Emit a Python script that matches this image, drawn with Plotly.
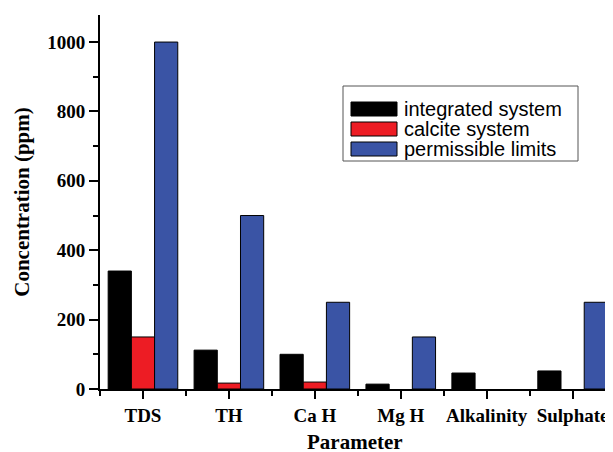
import plotly.graph_objects as go

categories = ["TDS", "TH", "Ca H", "Mg H", "Alkalinity", "Sulphate"]
integrated_system = [340, 112, 100, 14, 46, 52]
calcite_system = [150, 17, 20, None, None, None]
permissible_limits = [1000, 500, 250, 150, None, 250]
series_names = ["integrated system", "calcite system", "permissible limits"]
y_ticks = [0, 200, 400, 600, 800, 1000]
x_title = "Parameter"
y_title = "Concentration (ppm)"

colors = ["#000000", "#ed1c24", "#3a54a5"]
OFF = 8  # page body margin
W, H = 613 - OFF, 452 - OFF
L, R, T, B = 100 - OFF, 613 - OFF, 15 - OFF, 389 - OFF

x_idx = list(range(len(categories)))
fig = go.Figure()
for name, vals, c in zip(series_names, [integrated_system, calcite_system, permissible_limits], colors):
    fig.add_trace(go.Bar(x=x_idx, y=vals, name=name, marker=dict(color=c, line=dict(color="#000000", width=1)),
                         showlegend=False))

def px_x(p):
    return (p - OFF - L) / (R - L)

def px_y(p):
    return (B - (p - OFF)) / (B - T)

shapes = []
annotations = []
# legend box
shapes.append(dict(type="rect", xref="paper", yref="paper", x0=px_x(343), x1=px_x(578), y0=px_y(161), y1=px_y(86),
                   line=dict(color="#555555", width=1), fillcolor="white"))
row_centers = [109, 129, 149]
for name, c, yc in zip(series_names, colors, row_centers):
    shapes.append(dict(type="rect", xref="paper", yref="paper", x0=px_x(351), x1=px_x(397), y0=px_y(yc + 7), y1=px_y(yc - 7),
                       line=dict(color="#000000", width=1), fillcolor=c))
    annotations.append(dict(xref="paper", yref="paper", x=px_x(402), y=px_y(yc), text=name, showarrow=False,
                            xanchor="left", yanchor="middle", font=dict(family="Liberation Sans", size=20, color="#000000")))
# x-axis title
annotations.append(dict(xref="paper", yref="paper", x=px_x(355), y=px_y(428), text=x_title, showarrow=False,
                        xanchor="center", yanchor="top",
                        font=dict(family="Liberation Serif", size=21, weight="bold", color="#000000")))

fig.update_layout(
    width=W, height=H,
    margin=dict(l=L, r=W - R, t=T, b=H - B, pad=0, autoexpand=False),
    paper_bgcolor="white", plot_bgcolor="white",
    barmode="group", bargap=0.19, bargroupgap=0,
    shapes=shapes, annotations=annotations,
    font=dict(family="Liberation Serif", color="#000000"),
)
fig.update_xaxes(
    range=[-0.5, 5.47], tickmode="array", tickvals=x_idx, ticktext=categories, automargin=False,
    showline=True, linecolor="#000000", linewidth=2, ticks="outside", ticklen=8, tickwidth=2, tickcolor="#000000",
    tickfont=dict(family="Liberation Serif", size=19, weight="bold"),
    minor=dict(tickmode="linear", tick0=0.5, dtick=1, ticks="outside", ticklen=5, tickwidth=2, tickcolor="#000000"),
    showgrid=False, zeroline=False,
)
fig.update_yaxes(
    range=[0, 1078], tickmode="array", tickvals=y_ticks, automargin=False,
    showline=True, linecolor="#000000", linewidth=2, ticks="outside", ticklen=9, tickwidth=2, tickcolor="#000000",
    tickfont=dict(family="Liberation Serif", size=19, weight="bold"),
    minor=dict(tickmode="linear", tick0=100, dtick=200, ticks="outside", ticklen=5, tickwidth=2, tickcolor="#000000"),
    showgrid=False, zeroline=False,
    title=dict(text=y_title, font=dict(family="Liberation Serif", size=21, weight="bold"), standoff=12),
)
fig.write_html("out.html")
